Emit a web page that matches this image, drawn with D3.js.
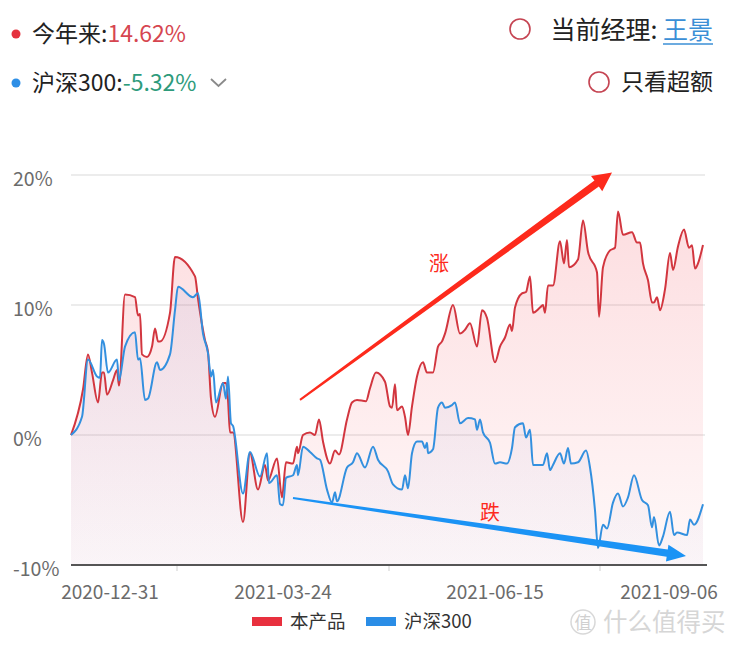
<!DOCTYPE html>
<html>
<head>
<meta charset="utf-8">
<script src="https://cdn.jsdelivr.net/npm/d3@7"></script>
<style>
  html,body{margin:0;padding:0;background:#fff;}
  svg{display:block;font-family:"Noto Sans CJK SC","Noto Sans",sans-serif;}
</style>
</head>
<body>
<svg id="chart" width="735" height="649"></svg>
<script>
// ---------- data ----------
// [t, v]: t = trading-day position from 2020-12-31, v = cumulative return (%)
const product = [[0,0],[3,3.5],[4.25,6.2],[5.25,4.8],[6.75,2.5],[7.75,4.8],[8.25,4.8],[9,3.1],[10.5,4.2],[11.5,5.0],[12,3.8],[13.5,10.8],[16,10.6],[16.75,9.2],[17.25,9.3],[17.75,6.2],[19,6.0],[20.25,6.8],[21,8.2],[21.75,7.2],[22.25,7.2],[24.75,9.4],[26,13.7],[31,12.2],[31.75,10.5],[33.5,7.3],[34.25,6.4],[35,2.8],[36,1.4],[38,4.0],[38.75,4.0],[39.25,2.7],[39.75,0.2],[40.5,0.2],[43,-6.7],[44.75,-1.4],[46.75,-4.2],[48.5,-2.3],[49.25,-3.5],[51.5,-1.8],[52.75,-4.8],[53.75,-2.1],[55.5,-2.2],[56.5,-0.9],[56.75,-1.4],[58,0],[59.75,0.2],[61,0],[62,1.2],[63,-0.5],[64.75,-2.2],[66,-1.2],[67,-1.5],[69,1.2],[70.25,2.5],[71.5,2.7],[73.75,2.6],[74.75,3.6],[76.25,4.8],[78.5,4.1],[79.75,2.2],[80.25,2.1],[81,3.9],[81.5,1.9],[82.75,2.2],[83.5,1.4],[84.25,0],[85.25,2.2],[86.5,4.5],[88,5.6],[89,4.8],[90.5,4.8],[91.75,6.8],[92.75,7.2],[93.5,7.8],[95.5,10.0],[97.25,7.8],[98.5,8.1],[99.75,8.6],[101.5,6.8],[102.75,9.6],[104,9.0],[106,5.6],[107.25,6.8],[108.5,7.5],[109.75,8.5],[110.25,8.0],[111,9.8],[112.75,10.9],[113.75,11.0],[114.75,12.2],[115.5,9.4],[117.25,9.8],[118,10.0],[118.5,9.4],[119.25,11.5],[120.5,11.5],[122.25,14.9],[123.25,13.2],[124,15.0],[124.5,12.9],[126.75,13.5],[128,16.5],[129.25,14.1],[131.5,12.5],[132,9.1],[133,12.9],[134.75,14.2],[136,14.4],[136.75,17.2],[138,15.4],[140.25,15.6],[141.5,14.8],[142.25,14.8],[143,13.2],[144.25,11.9],[145.25,10.2],[145.75,10.2],[146.5,10.6],[147.25,9.6],[148.5,11.2],[149.75,14.0],[150.5,12.7],[151.75,14.5],[153.25,15.8],[154.5,14.4],[155.25,14.6],[156,12.8],[156.75,13.2],[158,14.62]];

const hs300 = [[0,0],[2.75,1.4],[4.25,5.8],[6.5,4.5],[7.25,4.4],[7.75,7.3],[8.25,7.0],[9.25,4.8],[11.5,5.8],[12,4.2],[13.5,6.8],[16,7.9],[16.75,5.8],[17.25,5.9],[18.5,2.7],[19.25,2.8],[21.5,5.6],[22.25,5.0],[24.75,6.2],[26,9.6],[26.75,11.4],[30.5,10.6],[31.75,10.9],[33,7.8],[34.25,6.3],[35,4.5],[35.5,5.0],[36.25,2.5],[38,4.0],[38.75,2.8],[39.25,4.5],[40,0.9],[40.5,0.7],[43,-4.5],[44.75,-1.3],[47.25,-3.2],[49,-1.4],[49.5,-3.7],[51.5,-3.1],[52.25,-5.3],[53,-5.4],[53.75,-3.3],[55.5,-3.1],[56.5,-2.3],[56.75,-3.1],[58,-0.9],[59.75,-1.3],[61.5,-1.8],[62.25,-1.9],[64,-4.2],[65.25,-5.2],[66,-4.4],[66.5,-5.1],[69,-2.5],[70.5,-2.1],[71.5,-1.4],[73.5,-2.5],[75.5,-0.9],[76.75,-1.9],[79.25,-2.8],[80.5,-3.8],[82.75,-4.2],[83.5,-3.1],[84.25,-4.1],[85.25,-1.4],[86.5,-0.5],[87.75,-0.5],[88.5,-1.0],[89,-0.6],[89.25,-1.4],[90.5,-1.1],[91.75,2.1],[92.75,2.5],[93.5,2.1],[95.25,2.3],[96,2.5],[97.25,0.9],[99.25,1.3],[101,1.2],[101.5,0.4],[102.25,1.2],[103,0.2],[104.75,-0.6],[106,-2.2],[107.25,-2.1],[109,-2.2],[110.25,-1.0],[111,0.6],[113,0.9],[113.75,-0.2],[114.75,0.4],[115.5,-2.3],[118,-2.3],[119,-1.4],[119.75,-2.7],[120.5,-2.3],[122.25,-1.4],[123.25,-2.2],[124.25,-1.0],[125,-2.2],[126.75,-2.1],[128.75,-1.2],[129.75,-2.5],[131,-5.8],[131.75,-8.7],[133,-6.9],[134,-7.2],[135.5,-5.2],[136.75,-4.5],[138,-5.5],[139.25,-4.8],[140.75,-3.1],[142.75,-5.0],[144.25,-5.4],[145.25,-7.1],[145.75,-6.3],[147,-8.5],[148,-7.8],[149.75,-5.9],[150.75,-7.7],[151.5,-7.5],[154,-7.7],[154.75,-6.5],[155.75,-6.9],[158,-5.32]];

const yTicks = [-10, 0, 10, 20];
const xLabels = ["2020-12-31", "2021-03-24", "2021-06-15", "2021-09-06"];
const xLabelT = [9.75, 53, 106, 149.5];
const xTickT = [26.5, 79.5, 132.25];

const seriesNames = ["本产品", "沪深300"];
const ytdProduct = "14.62%";
const ytdIndex = "-5.32%";
const managerName = "王景";

// ---------- layout ----------
const svg = d3.select("#chart");
const x = d3.scaleLinear().domain([0, 158]).range([71, 703]);
const y = d3.scaleLinear().domain([-10, 20]).range([565, 175]);

const RED = "#d2363f", BLUE = "#3390df";

const defs = svg.append("defs");
const gR = defs.append("linearGradient").attr("id","gR")
  .attr("gradientUnits","userSpaceOnUse").attr("y1",175).attr("y2",565).attr("x1",0).attr("x2",0);
gR.append("stop").attr("offset",0).attr("stop-color","#f45a66").attr("stop-opacity",0.22);
gR.append("stop").attr("offset",1).attr("stop-color","#f45a66").attr("stop-opacity",0.04);
const gB = defs.append("linearGradient").attr("id","gB")
  .attr("gradientUnits","userSpaceOnUse").attr("y1",175).attr("y2",565).attr("x1",0).attr("x2",0);
gB.append("stop").attr("offset",0).attr("stop-color","#6d7fd0").attr("stop-opacity",0.12);
gB.append("stop").attr("offset",1).attr("stop-color","#6d7fd0").attr("stop-opacity",0.03);

// gridlines
svg.append("g").selectAll("line").data(yTicks.filter(d => d > -10)).join("line")
  .attr("x1", x(0)).attr("x2", x(158) + 2)
  .attr("y1", d => y(d)).attr("y2", d => y(d))
  .attr("stroke", "#ececec").attr("stroke-width", 2);

// y labels (left aligned)
svg.append("g").selectAll("text").data(yTicks).join("text")
  .attr("x", 13).attr("y", d => y(d) + 11)
  .attr("font-size", 19.5).attr("fill", "#6b6b6b")
  .text(d => d + "%");

const area = d3.area().x(d => x(d[0])).y0(y(-10)).y1(d => y(d[1])).curve(d3.curveMonotoneX);
const line = d3.line().x(d => x(d[0])).y(d => y(d[1])).curve(d3.curveMonotoneX);

svg.append("path").attr("d", area(product)).attr("fill", "url(#gR)");
svg.append("path").attr("d", area(hs300)).attr("fill", "url(#gB)");
svg.append("path").attr("d", line(product)).attr("fill", "none").attr("stroke", RED).attr("stroke-width", 2);
svg.append("path").attr("d", line(hs300)).attr("fill", "none").attr("stroke", BLUE).attr("stroke-width", 2);

// x axis line
svg.append("line").attr("x1", x(0)).attr("x2", x(159)).attr("y1", y(-10)).attr("y2", y(-10))
  .attr("stroke", "#555").attr("stroke-width", 2);
svg.append("g").selectAll("line").data(xTickT).join("line")
  .attr("x1", d => x(d)).attr("x2", d => x(d)).attr("y1", y(-10) + 1).attr("y2", y(-10) + 6)
  .attr("stroke", "#cfcfcf").attr("stroke-width", 1);
svg.append("g").selectAll("text").data(xLabels).join("text")
  .attr("x", (d, i) => x(xLabelT[i])).attr("y", 599)
  .attr("text-anchor", "middle").attr("font-size", 19).attr("fill", "#6b6b6b")
  .text(d => d);

// annotation arrows (tapered)
function taperArrow(p0, p1, w0, w1, headLen, headW, color) {
  const [x0, y0] = [x(p0[0]), y(p0[1])], [x1, y1] = [x(p1[0]), y(p1[1])];
  const dx = x1 - x0, dy = y1 - y0, L = Math.hypot(dx, dy);
  const ux = dx / L, uy = dy / L, nx = -uy, ny = ux;
  const bx = x1 - ux * headLen, by = y1 - uy * headLen;
  const pts = [
    [x0 + nx * w0 / 2, y0 + ny * w0 / 2],
    [bx + nx * w1 / 2, by + ny * w1 / 2],
    [bx + nx * headW / 2, by + ny * headW / 2],
    [x1, y1],
    [bx - nx * headW / 2, by - ny * headW / 2],
    [bx - nx * w1 / 2, by - ny * w1 / 2],
    [x0 - nx * w0 / 2, y0 - ny * w0 / 2]
  ];
  svg.append("path").attr("d", "M" + pts.map(p => p.join(",")).join("L") + "Z").attr("fill", color);
}
taperArrow([57.25, 2.7], [135.25, 20.2], 2, 7.5, 19, 19, "#fd2a1c");
taperArrow([55.5, -4.85], [153.75, -9.3], 2, 7.5, 19, 17, "#1b93f5");

svg.append("text").attr("x", x(92)).attr("y", y(12.6)).attr("text-anchor", "middle")
  .attr("font-size", 20).attr("fill", "#fd2a1c").text("涨");
svg.append("text").attr("x", x(104.75)).attr("y", y(-6.5)).attr("text-anchor", "middle")
  .attr("font-size", 20).attr("fill", "#fd2a1c").text("跌");

// top header
svg.append("circle").attr("cx", 16).attr("cy", 34).attr("r", 4.5).attr("fill", "#e5323f");
svg.append("circle").attr("cx", 16).attr("cy", 83).attr("r", 4.5).attr("fill", "#2e8fe6");
const t1 = svg.append("text").attr("x", 32).attr("y", 42).attr("font-size", 23);
t1.append("tspan").attr("fill", "#222").text("今年来:");
t1.append("tspan").attr("fill", "#d64650").text(ytdProduct);
const t2 = svg.append("text").attr("x", 32).attr("y", 91).attr("font-size", 23);
t2.append("tspan").attr("fill", "#222").text("沪深300:");
t2.append("tspan").attr("fill", "#2e9b7b").text(ytdIndex);
svg.append("path").attr("d", "M211,79 L218.5,86 L226,79").attr("fill", "none")
  .attr("stroke", "#8a8a8a").attr("stroke-width", 1.8);

svg.append("circle").attr("cx", 520).attr("cy", 29).attr("r", 10).attr("fill", "none")
  .attr("stroke", "#c54452").attr("stroke-width", 1.6);
const t3 = svg.append("text").attr("x", 713).attr("y", 39).attr("font-size", 25).attr("text-anchor", "end");
t3.append("tspan").attr("fill", "#222").text("当前经理: ");
const nm = t3.append("tspan").attr("fill", "#3b8fd6").text(managerName);
const nmW = nm.node().getComputedTextLength();
svg.append("line").attr("x1", 713 - nmW).attr("x2", 713).attr("y1", 44).attr("y2", 44)
  .attr("stroke", "#3b8fd6").attr("stroke-width", 1.5);
svg.append("circle").attr("cx", 599).attr("cy", 82).attr("r", 10).attr("fill", "none")
  .attr("stroke", "#c54452").attr("stroke-width", 1.6);
svg.append("text").attr("x", 713).attr("y", 90).attr("font-size", 23).attr("text-anchor", "end")
  .attr("fill", "#222").text("只看超额");

// bottom legend
const leg = svg.append("g");
const legX = [252, 366];
const legC = ["#e8303e", "#2a8de6"];
seriesNames.forEach((n, i) => {
  leg.append("rect").attr("x", legX[i]).attr("y", 617).attr("width", 30).attr("height", 9).attr("fill", legC[i]);
  leg.append("text").attr("x", legX[i] + 38).attr("y", 628).attr("font-size", 18.5).attr("fill", "#333").text(n);
});

// watermark
svg.append("circle").attr("cx", 583).attr("cy", 622).attr("r", 12).attr("fill", "none")
  .attr("stroke", "#d8d8d8").attr("stroke-width", 1.5);
svg.append("text").attr("x", 583).attr("y", 629).attr("text-anchor", "middle").attr("font-size", 17)
  .attr("fill", "#d0d0d0").text("值");
svg.append("text").attr("x", 603).attr("y", 631).attr("font-size", 24.5).attr("fill", "#d6d6d6").text("什么值得买");
</script>
</body>
</html>
